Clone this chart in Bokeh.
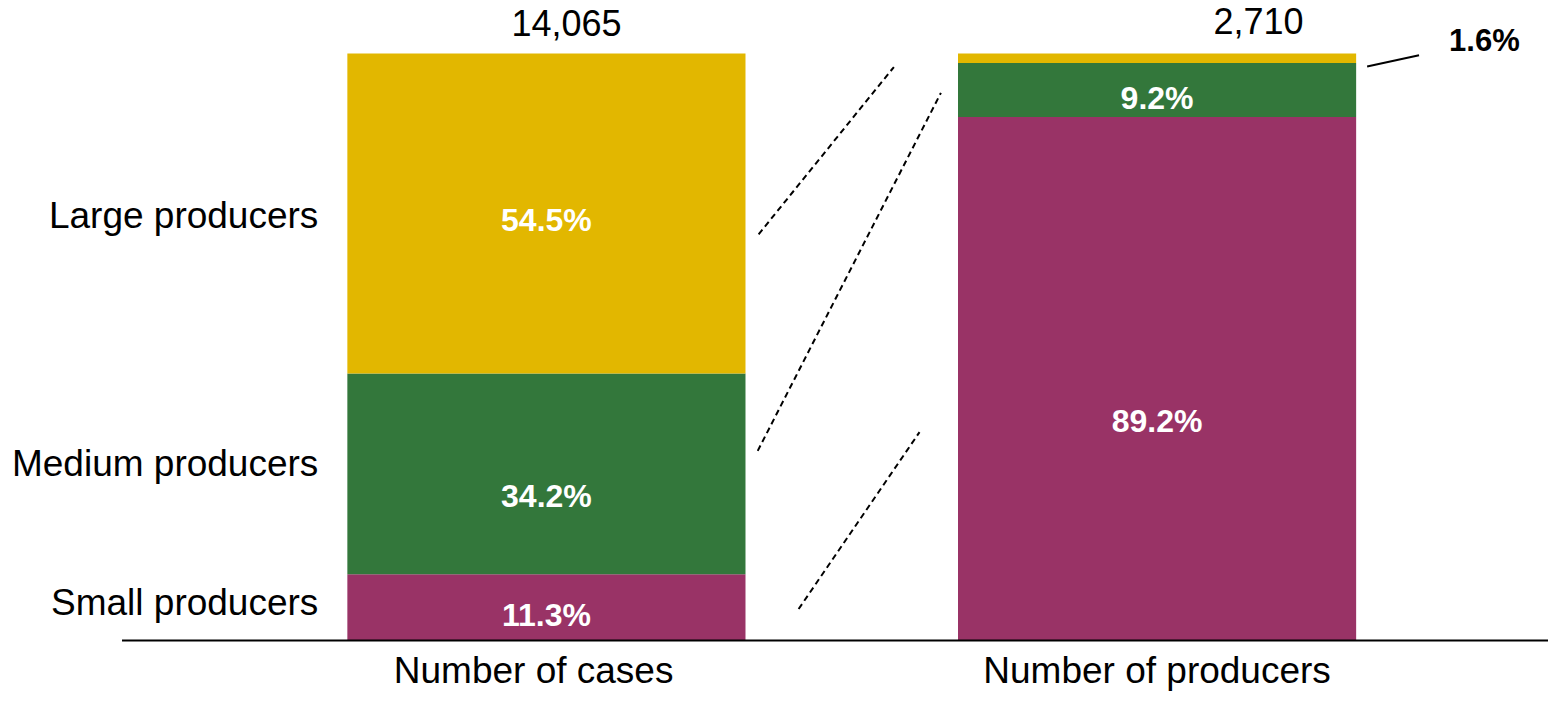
from bokeh.plotting import figure
from bokeh.models import Range1d, ColumnDataSource
from bokeh.core.properties import value
from bokeh.embed import file_html
from bokeh.resources import INLINE

# ---- data ----
categories = ["Number of cases", "Number of producers"]
groups = ["Small producers", "Medium producers", "Large producers"]
small = [11.3, 89.2]
medium = [34.2, 9.2]
large = [54.5, 1.6]
totals = [14065, 2710]

colors = ["#993366", "#33773B", "#E2B700"]
FONT = "Liberation Sans"

x = [0, 1]
src = ColumnDataSource(dict(x=x, small=small, medium=medium, large=large))

p = figure(width=1548, height=693, output_backend="svg", toolbar_location=None,
           x_range=Range1d(-0.894, 1.641), y_range=Range1d(-9.03, 109.03),
           min_border=0)
p.axis.visible = False
p.grid.visible = False
p.outline_line_color = None
p.background_fill_color = "white"

p.vbar_stack(["small", "medium", "large"], x="x", width=0.652, source=src,
             color=colors, line_color=None)

# baseline
p.segment(x0=[-0.695], y0=[0], x1=[1.7], y1=[0], line_color="black", line_width=2)

# decorative dashed connectors
p.segment(x0=[0.3475, 0.346, 0.413], y0=[69.2, 32.3, 5.36],
          x1=[0.569, 0.646, 0.611], y1=[97.7, 93.3, 35.5],
          line_color="black", line_width=2, line_dash="6 4")

# leader for 1.6%
p.segment(x0=[1.344], y0=[97.8], x1=[1.429], y1=[99.7], line_color="black", line_width=2)

# group labels on the left
p.text(x=[-0.3735] * 3, y=[6.4, 30.2, 72.4], text=groups,
       text_align="right", text_baseline="middle",
       text_font=value(FONT), text_font_size="37px", text_color="black")

# category labels at the bottom
p.text(x=[x[0] - 0.021, x[1]], y=[-5.11, -5.11], text=categories,
       text_align="center", text_baseline="middle",
       text_font=value(FONT), text_font_size="37px", text_color="black")

# totals on top
p.text(x=[x[0] + 0.033, x[1] + 0.166], y=[105.2, 105.5], text=[f"{t:,}" for t in totals],
       text_align="center", text_baseline="middle",
       text_font=value(FONT), text_font_size="36px", text_color="black")

# inside percentage labels (white, bold)
in_x = [x[0], x[0], x[0], x[1], x[1]]
in_y = [4.4, 24.6, 71.7, 37.4, 92.5]
in_vals = [small[0], medium[0], large[0], small[1], medium[1]]
p.text(x=in_x, y=in_y, text=[f"{v:.1f}%" for v in in_vals],
       text_align="center", text_baseline="middle",
       text_font=value(FONT), text_font_size="32px", text_font_style="bold",
       text_color="white")

# outside label for the tiny segment
p.text(x=[x[1] + 0.536], y=[102.2], text=[f"{large[1]:.1f}%"],
       text_align="center", text_baseline="middle",
       text_font=value(FONT), text_font_size="31px", text_font_style="bold",
       text_color="black")

open("out.html", "w").write(file_html(p, INLINE))
